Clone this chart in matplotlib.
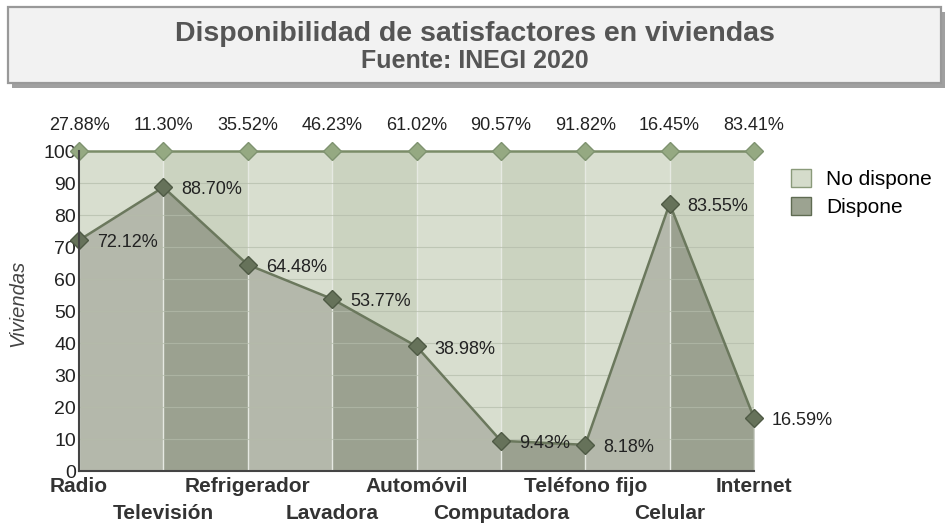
import matplotlib
matplotlib.use("Agg")
import matplotlib.pyplot as plt
from matplotlib.patches import Rectangle, Patch

plt.rcParams['font.family'] = ['Liberation Sans', 'DejaVu Sans']

# data
categorias = ["Radio", "Televisión", "Refrigerador", "Lavadora", "Automóvil",
              "Computadora", "Teléfono fijo", "Celular", "Internet"]
dispone = [72.12, 88.70, 64.48, 53.77, 38.98, 9.43, 8.18, 83.55, 16.59]
no_dispone = [27.88, 11.30, 35.52, 46.23, 61.02, 90.57, 91.82, 16.45, 83.41]
total = [100] * len(categorias)

fig = plt.figure(figsize=(9.49, 5.29), dpi=100)

# title box with shadow
fig.patches.append(Rectangle((12 / 949, 1 - 88 / 529), 933 / 949, 76 / 529,
                             transform=fig.transFigure, facecolor="#a0a0a0",
                             edgecolor="none", zorder=0))
fig.patches.append(Rectangle((8 / 949, 1 - 83 / 529), 933 / 949, 76 / 529,
                             transform=fig.transFigure, facecolor="#f2f2f2",
                             edgecolor="#999999", linewidth=1.6, zorder=1))
fig.text(0.5, 1 - 41 / 529, "Disponibilidad de satisfactores en viviendas",
         ha="center", va="baseline", fontsize=20.5, fontweight="bold", color="#555555")
fig.text(0.5, 1 - 68 / 529, "Fuente: INEGI 2020",
         ha="center", va="baseline", fontsize=18, fontweight="bold", color="#555555")

ax = fig.add_axes([79 / 949, 1 - 471 / 529, 675 / 949, 320 / 529])
x = list(range(len(categorias)))

ax.fill_between(x, 0, total, color="#cbd3c0", zorder=1, linewidth=0)
ax.fill_between(x, 0, dispone, color="#9ba190", zorder=2, linewidth=0)
# alternating lighter bands
for i in range(0, len(categorias) - 1, 2):
    ax.axvspan(i, i + 1, color="white", alpha=0.25, linewidth=0, zorder=3)
for i in x:
    ax.axvline(i, color="#e6e9e2", linewidth=1, zorder=3.5)
for v in range(10, 100, 10):
    ax.axhline(v, color="#b4bcaa", linewidth=0.8, alpha=0.7, zorder=3.5)

ax.plot(x, total, color="#7a8c68", linewidth=1.8, marker="D", markersize=9.5,
        markerfacecolor="#95a982", markeredgecolor="#7f9370", clip_on=False, zorder=5)
ax.plot(x, dispone, color="#6b785d", linewidth=1.8, marker="D", markersize=9.5,
        markerfacecolor="#66725a", markeredgecolor="#4f5a45", clip_on=False, zorder=6)

for i, v in enumerate(dispone):
    ax.annotate(f"{v:.2f}%", (i, v), xytext=(13, -2), textcoords="offset points",
                ha="left", va="center", fontsize=13, color="#222222", zorder=7)
for i, v in enumerate(no_dispone):
    ax.text(i, 108, f"{v:.2f}%", ha="center", va="center", fontsize=13,
            color="#222222", clip_on=False)

ax.set_xlim(0, len(categorias) - 1)
ax.set_ylim(0, 100)
ax.set_yticks(range(0, 101, 10))
ax.tick_params(axis="y", length=0, labelsize=14, colors="#222222", pad=2)
ax.set_xticks(x)
ax.set_xticklabels([])
ax.tick_params(axis="x", length=0)
trans = ax.get_xaxis_transform()
for i, c in enumerate(categorias):
    yy = -0.05 if i % 2 == 0 else -0.134
    ax.text(i, yy, c, transform=trans, ha="center", va="center", fontsize=15,
            fontweight="bold", color="#333333", clip_on=False)

for s in ["top", "right"]:
    ax.spines[s].set_visible(False)
for s in ["left", "bottom"]:
    ax.spines[s].set_color("#444444")
    ax.spines[s].set_linewidth(1.5)
    ax.spines[s].set_zorder(8)

fig.text(18 / 949, 1 - 303 / 529, "Viviendas", rotation=90, ha="center", va="center",
         fontsize=14.5, style="italic", color="#444444")

handles = [Patch(facecolor="#d5dccb", edgecolor="#8a9a7a", label="No dispone"),
           Patch(facecolor="#9ca391", edgecolor="#5f6b52", label="Dispone")]
fig.legend(handles=handles, loc="upper left", bbox_to_anchor=(772 / 949, 1 - 150 / 529),
           frameon=False, fontsize=15, handlelength=0.95, handleheight=0.95,
           handletextpad=0.75, labelspacing=0.4)

fig.savefig("out.png", dpi=100)
